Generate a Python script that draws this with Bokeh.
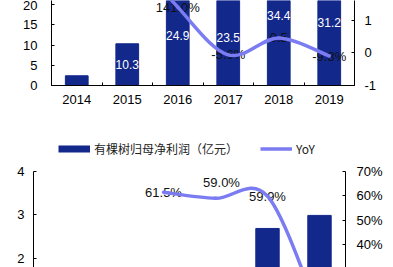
from bokeh.plotting import figure
from bokeh.layouts import column, row
from bokeh.models import Range1d, LinearAxis, FixedTicker, Legend, LegendItem
from bokeh.embed import file_html
from bokeh.resources import INLINE
from bokeh.core.properties import value

# ---------------- data ----------------
years = ["2014", "2015", "2016", "2017", "2018", "2019"]

# top chart
revenue = [2.4, 10.3, 24.9, 23.5, 34.4, 31.2]
revenue_labels = ["", "10.3", "24.9", "23.5", "34.4", "31.2"]
revenue_yoy = [None, 3.29, 1.41, -0.056, 0.464, -0.093]
revenue_yoy_labels = ["", "", "141.0%", "-5.6%", "0.5", "-9.3%"]

# bottom chart
profit = [0.25, 0.66, 1.06, 1.68, 2.69, 2.99]
profit_yoy = [None, None, 0.615, 0.590, 0.599, 0.112]
profit_yoy_labels = ["", "", "61.5%", "59.0%", "59.9%", ""]
legend_labels = ["有棵树归母净利润（亿元）", "YoY"]

left_ticks_top = [0, 5, 10, 15, 20]
right_ticks_top = [-1, 0, 1]
left_ticks_bottom = [2, 3, 4]
right_ticks_bottom = [0.4, 0.5, 0.6, 0.7]

# ---------------- style ----------------
NAVY = "#13288b"
LINE = "#7b7bf2"
FONT = "Liberation Sans"
CJK = "Noto Sans CJK SC"
idx = list(range(len(years)))
NAN = float("nan")


def smooth(xs, ys):
    pts = [(x, y) for x, y in zip(xs, ys) if y is not None]
    d = {k: [] for k in ("x0", "y0", "x1", "y1", "cx0", "cy0", "cx1", "cy1")}
    n = len(pts)
    for i in range(n - 1):
        p0 = pts[i - 1] if i > 0 else pts[i]
        p1, p2 = pts[i], pts[i + 1]
        p3 = pts[i + 2] if i + 2 < n else pts[i + 1]
        d["x0"].append(p1[0]); d["y0"].append(p1[1])
        d["x1"].append(p2[0]); d["y1"].append(p2[1])
        d["cx0"].append(p1[0] + (p2[0] - p0[0]) / 6)
        d["cy0"].append(p1[1] + (p2[1] - p0[1]) / 6)
        d["cx1"].append(p2[0] - (p3[0] - p1[0]) / 6)
        d["cy1"].append(p2[1] - (p3[1] - p1[1]) / 6)
    return d


def style_axis(ax, standoff):
    ax.axis_line_color = "black"
    ax.axis_line_width = 1
    ax.major_tick_line_color = "black"
    ax.major_tick_in = 3
    ax.major_tick_out = 0
    ax.minor_tick_line_color = None
    ax.major_label_text_font = FONT
    ax.major_label_text_font_size = "13px"
    ax.major_label_text_color = "black"
    ax.major_label_standoff = standoff


# ---------------- top figure ----------------
p1 = figure(width=393, height=110, x_range=Range1d(-0.5, 5.5), y_range=Range1d(0, 20.99),
            output_backend="svg", toolbar_location=None,
            min_border_left=51, min_border_right=39, min_border_top=0, min_border_bottom=25)
p1.extra_y_ranges = {"yoy": Range1d(-1, 1.615)}
p1.outline_line_color = None
p1.grid.visible = False

xa = p1.xaxis[0]
xa.ticker = FixedTicker(ticks=idx, minor_ticks=[i - 0.5 for i in range(len(years) + 1)])
xa.major_label_overrides = {i: y for i, y in zip(idx, years)}
style_axis(xa, 9)
xa.major_tick_in = 0
xa.minor_tick_line_color = "black"
xa.minor_tick_in = 3
xa.minor_tick_out = 0

ya = p1.yaxis[0]
ya.ticker = FixedTicker(ticks=left_ticks_top)
style_axis(ya, 14)

ra = LinearAxis(y_range_name="yoy", ticker=FixedTicker(ticks=right_ticks_top))
ra.major_label_overrides = {t: str(t) for t in right_ticks_top}
style_axis(ra, 10)
p1.add_layout(ra, "right")

p1.vbar(x=idx, top=revenue, width=0.45, fill_color=NAVY, line_color=NAVY)
p1.text(x=idx, y=[v / 2 for v in revenue], text=revenue_labels, text_color="white",
        text_font=value(FONT), text_font_size="12px", text_align="center", text_baseline="middle")
yx = [i for i, v in zip(idx, revenue_yoy) if v is not None]
yv = [v for v in revenue_yoy if v is not None]
yl = [l for l, v in zip(revenue_yoy_labels, revenue_yoy) if v is not None]
p1.text(x=yx, y=yv, text=yl, y_range_name="yoy", text_color="#111111",
        text_font=value(FONT), text_font_size="13px", text_align="center", text_baseline="middle")
p1.bezier(line_color=LINE, line_width=3.5, line_cap="round", y_range_name="yoy",
          **smooth(idx, revenue_yoy))

# ---------------- bottom figure ----------------
# frame spans the whole figure height; the axes are bounded to the plot area
p2 = figure(width=393, height=157, x_range=Range1d(-0.5, 5.5), y_range=Range1d(1.793, 5.40),
            output_backend="svg", toolbar_location=None, x_axis_location=None,
            min_border_left=33, min_border_right=48, min_border_top=0, min_border_bottom=0)
p2.extra_y_ranges = {"yoy": Range1d(0.3066, 0.95)}
p2.outline_line_color = None
p2.grid.visible = False

ya2 = p2.yaxis[0]
ya2.ticker = FixedTicker(ticks=left_ticks_bottom)
ya2.bounds = (1.793, 4.0)
style_axis(ya2, 9)

ra2 = LinearAxis(y_range_name="yoy", ticker=FixedTicker(ticks=right_ticks_bottom), bounds=(0.3066, 0.70))
ra2.major_label_overrides = {t: f"{round(t * 100)}%" for t in right_ticks_bottom}
style_axis(ra2, 11)
p2.add_layout(ra2, "right")

p2.vbar(x=idx, top=profit, width=0.45, fill_color=NAVY, line_color=NAVY)
px = [i for i, v in zip(idx, profit_yoy) if v is not None]
pv = [v for v in profit_yoy if v is not None]
pl = [l for l, v in zip(profit_yoy_labels, profit_yoy) if v is not None]
label_dx = [0, 6, 0, 0]
label_dy = [0, -16, 0, 0]
p2.text(x=px, y=pv, text=pl, y_range_name="yoy", text_color="#111111", x_offset=label_dx, y_offset=label_dy,
        text_font=value(FONT), text_font_size="13px", text_align="center", text_baseline="middle")
p2.bezier(line_color=LINE, line_width=3.5, line_cap="round", y_range_name="yoy",
          **smooth(idx, profit_yoy))

# legend-only renderers (they draw nothing on the plot itself)
leg_bar = p2.line(x=[NAN], y=[NAN], line_color=NAVY, line_width=7, line_cap="butt")
leg_line = p2.line(x=[NAN], y=[NAN], line_color=LINE, line_width=3.5, y_range_name="yoy")

legend = Legend(items=[LegendItem(label=legend_labels[0], renderers=[leg_bar]),
                       LegendItem(label=legend_labels[1], renderers=[leg_line])],
                location=(25, 110), orientation="horizontal", padding=0, margin=0,
                border_line_color=None, background_fill_alpha=0,
                glyph_width=32, glyph_height=9, label_standoff=4, spacing=22,
                label_text_font=CJK, label_text_font_size="12px", label_height=14,
                label_text_color="#222222")
p2.add_layout(legend, "center")

layout = column(row(p1), row(p2), spacing=0)
open("out.html", "w").write(file_html(layout, INLINE))
